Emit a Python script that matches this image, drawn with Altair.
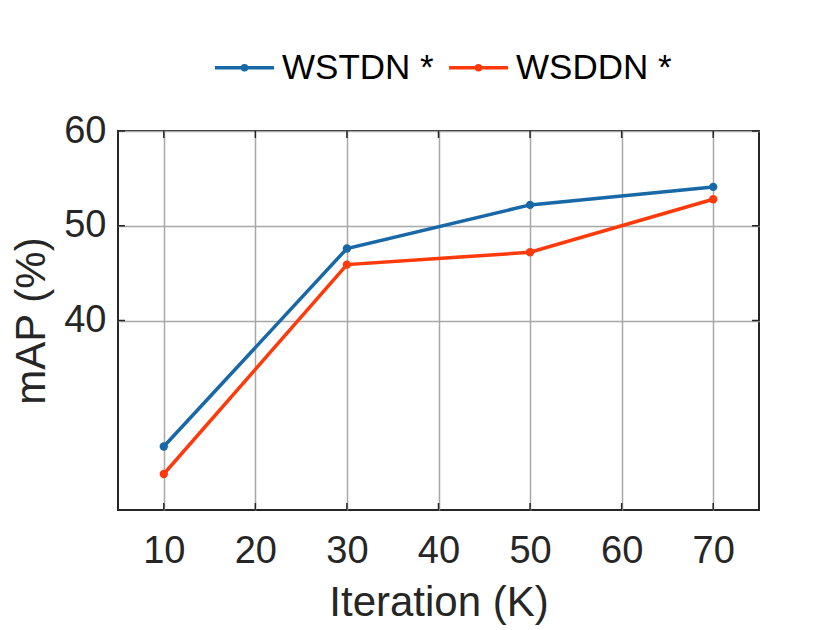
import altair as alt
import pandas as pd

iterations = [10, 30, 50, 70]
wstdn = [26.7, 47.6, 52.2, 54.1]
wsddn = [23.8, 45.9, 47.2, 52.8]
series_names = ["WSTDN *", "WSDDN *"]
series_colors = ["#1868A8", "#FF3A0A"]
x_ticks = [10, 20, 30, 40, 50, 60, 70]
y_ticks = [40, 50, 60]

rows = []
for name, vals in zip(series_names, [wstdn, wsddn]):
    for it, v in zip(iterations, vals):
        rows.append({"Iteration": it, "mAP": v, "Method": name})
df = pd.DataFrame(rows)
xt = pd.DataFrame({"t": x_ticks})
yt = pd.DataFrame({"t": y_ticks})

W, H = 641, 379
FONT = "Liberation Sans"
TXT = "#262626"

xscale = alt.Scale(domain=[5, 75], nice=False, zero=False)
yscale = alt.Scale(domain=[20, 60], nice=False, zero=False)

legend_sym = ("M-1,0L1,0M-0.07,0a0.07,0.07 0 1,0 0.14,0"
              "a0.07,0.07 0 1,0 -0.14,0")

lines = alt.Chart(df).mark_line(
    strokeWidth=3.5,
    point=alt.OverlayMarkDef(filled=True, size=70),
).encode(
    x=alt.X("Iteration:Q", scale=xscale,
            axis=alt.Axis(values=x_ticks, title="Iteration (K)", grid=True,
                          tickSize=0, domain=False, labelPadding=22,
                          titlePadding=12)),
    y=alt.Y("mAP:Q", scale=yscale,
            axis=alt.Axis(values=y_ticks, title="mAP (%)", grid=True,
                          tickSize=0, domain=False, labelPadding=12,
                          titlePadding=10)),
    color=alt.Color("Method:N",
                    scale=alt.Scale(domain=series_names, range=series_colors),
                    legend=alt.Legend(title=None, orient="none",
                                      direction="horizontal",
                                      legendX=95, legendY=-95,
                                      symbolType=legend_sym,
                                      symbolSize=3481,
                                      symbolStrokeWidth=3.5,
                                      labelFontSize=35, labelFont=FONT,
                                      labelColor="black", labelOffset=6,
                                      columnPadding=8, labelLimit=400)),
)

tick_len = 7
xb = alt.Chart(xt).mark_rule(color=TXT, strokeWidth=1.5).encode(
    x=alt.X("t:Q", scale=xscale), y=alt.value(H - tick_len), y2=alt.value(H))
xtp = alt.Chart(xt).mark_rule(color=TXT, strokeWidth=1.5).encode(
    x=alt.X("t:Q", scale=xscale), y=alt.value(0), y2=alt.value(tick_len))
yl = alt.Chart(yt).mark_rule(color=TXT, strokeWidth=1.5).encode(
    y=alt.Y("t:Q", scale=yscale), x=alt.value(0), x2=alt.value(tick_len))
yr = alt.Chart(yt).mark_rule(color=TXT, strokeWidth=1.5).encode(
    y=alt.Y("t:Q", scale=yscale), x=alt.value(W - tick_len), x2=alt.value(W))

chart = alt.layer(lines, xb, xtp, yl, yr).properties(
    width=W, height=H,
    background="white",
    autosize=alt.AutoSizeParams(type="none"),
    padding={"left": 110, "top": 123, "right": 73, "bottom": 116},
).configure_view(
    stroke=TXT, strokeWidth=2
).configure_axis(
    gridColor="#a8a8a8", gridWidth=1.5, gridOpacity=1,
    labelFont=FONT, labelFontSize=38, labelColor=TXT,
    titleFont=FONT, titleFontSize=42, titleFontWeight="normal", titleColor=TXT,
)

chart.save("out.html", embed_options={"renderer": "svg", "actions": False})
